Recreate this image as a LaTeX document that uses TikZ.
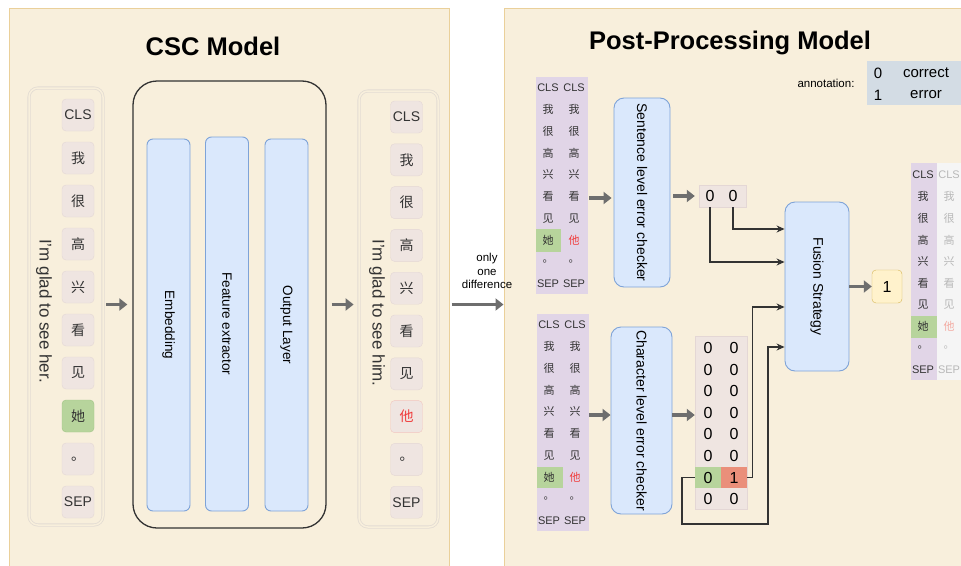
\documentclass[tikz,border=0pt]{standalone}
\usepackage{fontspec}
\setmainfont{Liberation Sans}
\newfontfamily\cjk{Noto Sans CJK SC}
\usepackage{tikz}
\usetikzlibrary{positioning, arrows.meta, calc}

\definecolor{panelfill}{HTML}{F8EFDC}
\definecolor{panelline}{HTML}{EAD09A}
\definecolor{tokfill}{HTML}{EFE5E1}
\definecolor{tokline}{HTML}{E4D7D5}
\definecolor{greenfill}{HTML}{B7D49C}
\definecolor{greenline}{HTML}{A0C585}
\definecolor{redtext}{HTML}{F03C3C}
\definecolor{redline}{HTML}{F2C6C0}
\definecolor{redcell}{HTML}{EA8F7A}
\definecolor{bluefill}{HTML}{DAE8FC}
\definecolor{blueline}{HTML}{7EA3D8}
\definecolor{purplefill}{HTML}{E1D5E7}
\definecolor{yellowfill}{HTML}{FFF2CC}
\definecolor{yellowline}{HTML}{D6B656}
\definecolor{annotfill}{HTML}{D3DCE4}
\definecolor{holdline}{HTML}{E3DCD3}
\definecolor{arrowgray}{HTML}{6E6E6E}
\definecolor{linedark}{HTML}{333333}
\definecolor{fadefill}{HTML}{F5F5F5}
\definecolor{fadetext}{HTML}{B8B8B8}
\definecolor{fadered}{HTML}{F3ABA2}

\newcommand{\zh}[1]{{\cjk #1}}
\newcommand{\tokpairs}{CLS/CLS, \zh{我}/\zh{我}, \zh{很}/\zh{很}, \zh{高}/\zh{高}, \zh{兴}/\zh{兴}, \zh{看}/\zh{看}, \zh{见}/\zh{见}, \zh{她}/\textcolor{redtext}{\zh{他}}, \zh{。}/\zh{。}, SEP/SEP}

\begin{document}
\begin{tikzpicture}[x=1pt, y=-1pt,
    panel/.style={rectangle, draw=panelline, fill=panelfill, line width=1pt},
    title/.style={font=\fontsize{25.5}{30}\selectfont\bfseries, inner sep=0pt},
    holder/.style={rectangle, draw=holdline, double=panelfill, double distance=1.5pt, line width=0.8pt, rounded corners=9pt},
    tok/.style={rectangle, draw=tokline, fill=tokfill, rounded corners=4pt, minimum width=32pt, minimum height=32pt, inner sep=0pt, text=linedark, font=\fontsize{14}{16}\selectfont},
    tokgreen/.style={tok, draw=greenline, fill=greenfill},
    tokred/.style={tok, draw=redline, text=redtext},
    model/.style={rectangle, draw=linedark, line width=1.3pt, rounded corners=24pt},
    layer/.style={rectangle, draw=blueline, fill=bluefill, rounded corners=6pt, line width=0.9pt, minimum width=43pt, inner sep=0pt, font=\fontsize{13.5}{16}\selectfont},
    checker/.style={rectangle, draw=blueline, fill=bluefill, rounded corners=10pt, line width=0.9pt, inner sep=0pt, font=\fontsize{14}{16}\selectfont},
    sent/.style={inner sep=0pt, text=linedark, font=\fontsize{17}{20}\selectfont},
    block/.style={rectangle, fill=purplefill, inner sep=0pt},
    cell/.style={rectangle, inner sep=0pt},
    small/.style={inner sep=0pt, text=linedark, font=\fontsize{11}{13}\selectfont},
    digit/.style={inner sep=0pt, font=\fontsize{16}{18}\selectfont},
    note/.style={inner sep=0pt, align=center, font=\fontsize{11.5}{13.5}\selectfont},
    garrow/.style={-{Triangle[length=8pt, width=12pt]}, line width=3.2pt, draw=arrowgray},
    larrow/.style={-{Stealth[length=8pt, width=7pt]}, line width=1.2pt, draw=linedark}
  ]
    \clip (0,0) rectangle (961,565);

    % Panels
    \node[panel, minimum width=440pt, minimum height=575pt] (cscpanel) at (229,295.5) {};
    \node[panel, minimum width=480pt, minimum height=575pt] (pppanel) at (744,295.5) {};
    \node[title] (csctitle) at (213,46) {CSC Model};
    \node[title] (pptitle) at (730,43) {Post-Processing Model};

    % CSC model
    \node[holder, minimum width=74pt, minimum height=437pt] (inhold) at (66,306.5) {};
    \node[holder, minimum width=79pt, minimum height=436pt] (outhold) at (398.5,309) {};
    \node[sent] (insent) at (44,311) {\rotatebox{-90}{I'm glad to see her.}};
    \node[sent] (outsent) at (377,313) {\rotatebox{-90}{I'm glad to see him.}};
    \foreach \t/\st [count=\i from 0] in {CLS/tok, \zh{我}/tok, \zh{很}/tok, \zh{高}/tok, \zh{兴}/tok, \zh{看}/tok, \zh{见}/tok, \zh{她}/tokgreen, \zh{。}/tok, SEP/tok}
      \node[\st] (in\i) at (78,115+43*\i) {\t};
    \foreach \t/\st [count=\i from 0] in {CLS/tok, \zh{我}/tok, \zh{很}/tok, \zh{高}/tok, \zh{兴}/tok, \zh{看}/tok, \zh{见}/tok, \zh{他}/tokred, \zh{。}/tok, SEP/tok}
      \node[\st] (out\i) at (406.5,117+42.8*\i) {\t};

    \node[model, minimum width=193pt, minimum height=447pt] (model) at (229.5,304.5) {};
    \node[layer, minimum height=372pt] (embed) at (168.5,325) {\rotatebox{-90}{Embedding}};
    \node[layer, minimum height=374pt] (feat) at (227,324) {\rotatebox{-90}{Feature extractor}};
    \node[layer, minimum height=372pt] (outlayer) at (286.5,325) {\rotatebox{-90}{Output Layer}};

    \node[note] (diff) at (487,271) {only\\one\\difference};

    % Post-processing model
    \node[block, minimum width=52pt, minimum height=217pt] (sblock) at (562,185.5) {};
    \node[cell, fill=greenfill, minimum width=25pt, minimum height=23pt] (sgreen) at (548.5,240.5) {};
    \foreach \a/\b [count=\i from 0] in \tokpairs {
      \node[small] (sa\i) at (548,88+21.7*\i) {\a};
      \node[small] (sb\i) at (574,88+21.7*\i) {\b};
    }
    \node[checker, minimum width=56pt, minimum height=189pt] (sentchk) at (642,192.5) {\rotatebox{-90}{Sentence level error checker}};
    \node[cell, fill=tokfill, draw=tokline, minimum width=47pt, minimum height=22pt] (szero) at (722.5,196) {};
    \node[digit] (sz1) at (710,196) {0};
    \node[digit] (sz2) at (733,196) {0};

    \node[block, minimum width=52pt, minimum height=217pt] (cblock) at (563,422.5) {};
    \node[cell, fill=greenfill, minimum width=26pt, minimum height=21pt] (cgreen) at (550,477.5) {};
    \foreach \a/\b [count=\i from 0] in \tokpairs {
      \node[small] (ca\i) at (549,325+21.7*\i) {\a};
      \node[small] (cb\i) at (575,325+21.7*\i) {\b};
    }
    \node[checker, minimum width=61pt, minimum height=187pt] (charchk) at (641.5,420.5) {\rotatebox{-90}{Character level error checker}};
    \node[cell, fill=tokfill, draw=tokline, minimum width=52pt, minimum height=173pt] (cmat) at (721,422.5) {};
    \node[cell, fill=greenfill, minimum width=26pt, minimum height=21pt] (gcell) at (708,477.5) {};
    \node[cell, fill=redcell, minimum width=26pt, minimum height=21pt] (rcell) at (734,477.5) {};
    \foreach \a/\b [count=\i from 0] in {0/0, 0/0, 0/0, 0/0, 0/0, 0/0, 0/1, 0/0} {
      \node[digit] (cza\i) at (708,348+21.6*\i) {\a};
      \node[digit] (czb\i) at (734,348+21.6*\i) {\b};
    }

    \node[checker, minimum width=64pt, minimum height=169pt] (fusion) at (817,286.5) {\rotatebox{-90}{Fusion Strategy}};
    \node[cell, draw=yellowline, fill=yellowfill, rounded corners=4pt, minimum width=30pt, minimum height=33pt, font=\fontsize{16}{18}\selectfont] (result) at (887,286.5) {1};

    \node[block, minimum width=26pt, minimum height=217pt] (fblock) at (924,271.5) {};
    \node[cell, fill=fadefill, minimum width=26pt, minimum height=217pt] (fshade) at (950,271.5) {};
    \node[cell, fill=greenfill, minimum width=26pt, minimum height=22pt] (fgreen) at (924,327) {};
    \foreach \a/\b [count=\i from 0] in {CLS/CLS, \zh{我}/\zh{我}, \zh{很}/\zh{很}, \zh{高}/\zh{高}, \zh{兴}/\zh{兴}, \zh{看}/\zh{看}, \zh{见}/\zh{见}, \zh{她}/\textcolor{fadered}{\zh{他}}, \zh{。}/\zh{。}, SEP/SEP} {
      \node[small] (fa\i) at (923,175+21.6*\i) {\a};
      \node[small, text=fadetext] (fb\i) at (949,175+21.6*\i) {\b};
    }

    \node[note] (annotlabel) at (826,83) {annotation:};
    \node[cell, fill=annotfill, minimum width=100pt, minimum height=44pt] (annot) at (917,83) {};
    \node[digit, font=\fontsize{15}{17}\selectfont] (ann0) at (878,73) {0};
    \node[digit, font=\fontsize{15}{17}\selectfont] (ann0t) at (926,73) {correct};
    \node[digit, font=\fontsize{15}{17}\selectfont] (ann1) at (878,95) {1};
    \node[digit, font=\fontsize{15}{17}\selectfont] (ann1t) at (926,95) {error};

    % Arrows
    \draw[garrow, shorten <=3pt, shorten >=5pt] (inhold.east |- model) -- (model.west);
    \draw[garrow, shorten <=5pt, shorten >=5pt] (model.east) -- (outhold.west |- model);
    \draw[garrow, line width=3.8pt, shorten <=2pt] (cscpanel.east |- model) -- (pppanel.west |- model);
    \draw[garrow, shorten <=1pt, shorten >=2pt] (sblock.east |- 0,198) -- (sentchk.west |- 0,198);
    \draw[garrow, shorten <=3pt, shorten >=4pt] (sentchk.east |- szero) -- (szero.west);
    \draw[garrow] (cblock.east |- 0,415) -- (charchk.west |- 0,415);
    \draw[garrow] (charchk.east |- 0,415) -- (cmat.west |- 0,415);
    \draw[garrow] (fusion.east) -- (result.west);

    \coordinate (loopa) at (682,524);
    \coordinate (loopb) at (768,347);
    \draw[larrow] (sz1 |- szero.south) |- (fusion.west |- 0,262);
    \draw[larrow] (sz2 |- szero.south) |- (fusion.west |- 0,229);
    \draw[larrow] (rcell.east) -- ++(5,0) |- (fusion.west |- 0,307);
    \draw[larrow] (gcell.west) -| (loopa) -| (loopb) -- (fusion.west |- loopb);
  \end{tikzpicture}
\end{document}
